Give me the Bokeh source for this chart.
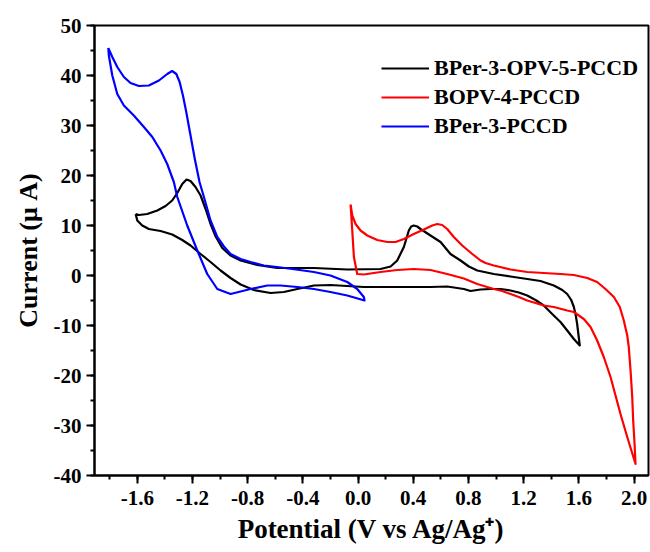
from bokeh.plotting import figure
from bokeh.models import Range1d, SingleIntervalTicker, NumeralTickFormatter, Legend, LegendItem
from bokeh.embed import file_html
from bokeh.resources import INLINE

# BPer-3-OPV-5-PCCD (black)
opv_v = [-1.612, -1.588, -1.528, -1.455, -1.395, -1.347, -1.31, -1.274, -1.243, -1.214, -1.178, -1.141,
         -1.105, -1.069, -1.032, -0.984, -0.924, -0.851, -0.73, -0.586, -0.45, -0.32, -0.078, 0.163,
         0.236, 0.284, 0.332, 0.368, 0.385, 0.404, 0.429, 0.453, 0.525, 0.598, 0.67, 0.743, 0.803, 0.864,
         0.984, 1.105, 1.226, 1.322, 1.419, 1.48, 1.516, 1.545, 1.564, 1.578, 1.588, 1.598, 1.607,
         1.564, 1.516, 1.467, 1.407, 1.346, 1.286, 1.226, 1.165, 1.105, 1.033, 0.96, 0.888, 0.815,
         0.767, 0.646, 0.525, 0.284, 0.042, -0.2, -0.32, -0.44, -0.538, -0.634, -0.755, -0.851, -0.924,
         -0.996, -1.069, -1.141, -1.214, -1.274, -1.347, -1.431, -1.516, -1.564, -1.6, -1.612]
opv_i = [12.3, 12.1, 12.3, 13.0, 13.9, 15.0, 16.5, 18.3, 19.2, 18.9, 17.7, 16.0,
         13.3, 10.3, 7.8, 5.5, 4.0, 3.0, 2.1, 1.5, 1.5, 1.5, 1.2, 1.3,
         1.8, 3.0, 5.7, 9.0, 9.8, 10.0, 9.8, 9.3, 8.0, 6.7, 4.3, 3.0, 1.8, 1.0,
         0.3, -0.2, -0.7, -1.1, -2.0, -2.9, -3.7, -4.9, -6.3, -8.0, -9.7, -12.0, -14.0,
         -12.7, -11.0, -9.3, -7.7, -6.0, -4.9, -4.0, -3.4, -3.0, -2.7, -2.7, -2.8, -3.1,
         -2.7, -2.2, -2.3, -2.3, -2.3, -1.9, -2.0, -2.7, -3.3, -3.5, -2.9, -1.8, -0.5,
         1.0, 2.7, 4.3, 6.0, 7.1, 8.2, 8.9, 9.3, 10.0, 11.0, 12.3]

# BOPV-4-PCCD (red)
bopv_v = [-0.054, -0.042, -0.018, 0.018, 0.067, 0.139, 0.212, 0.272, 0.332, 0.404, 0.477, 0.538, 0.574,
          0.61, 0.646, 0.694, 0.755, 0.828, 0.888, 0.924, 0.984, 1.105, 1.226, 1.346, 1.467, 1.564,
          1.661, 1.733, 1.793, 1.854, 1.897, 1.926, 1.951, 1.962, 1.975, 1.987, 1.994, 2.004, 2.011,
          1.951, 1.902, 1.866, 1.83, 1.781, 1.733, 1.685, 1.636, 1.564, 1.516, 1.419, 1.346, 1.286,
          1.226, 1.165, 1.105, 1.045, 0.984, 0.864, 0.767, 0.646, 0.525, 0.404, 0.284, 0.163, 0.042,
          -0.006, -0.03, -0.042, -0.054]
bopv_i = [14.2, 12.0, 10.3, 9.0, 8.0, 7.1, 6.7, 6.7, 7.3, 8.3, 9.2, 10.0, 10.3,
          10.1, 9.3, 7.7, 6.0, 4.3, 3.0, 2.5, 2.0, 1.2, 0.7, 0.5, 0.3, 0.1,
          -0.5, -1.3, -2.7, -4.3, -6.3, -9.0, -12.0, -14.3, -19.0, -24.3, -29.0, -33.7, -37.7,
          -32.3, -27.7, -24.0, -20.3, -16.3, -13.0, -10.3, -8.7, -7.3, -7.0, -6.3, -6.0, -5.5,
          -5.0, -4.3, -3.7, -3.1, -2.7, -1.7, -0.6, 0.3, 1.1, 1.3, 1.1, 0.7, 0.2,
          0.3, 3.7, 9.0, 14.2]

# BPer-3-PCCD (blue)
bper_v = [-1.81, -1.781, -1.745, -1.697, -1.649, -1.588, -1.516, -1.443, -1.383, -1.347, -1.317, -1.293,
          -1.269, -1.245, -1.214, -1.183, -1.149, -1.117, -1.069, -1.02, -0.972, -0.924, -0.851, -0.779,
          -0.683, -0.586, -0.45, -0.32, -0.2, -0.078, -0.006, 0.042, 0.047,
          -0.078, -0.2, -0.32, -0.44, -0.562, -0.658, -0.779, -0.924, -1.02, -1.093, -1.165, -1.238,
          -1.31, -1.335, -1.383, -1.431, -1.491, -1.552, -1.625, -1.697, -1.745, -1.781, -1.806, -1.81]
bper_i = [45.5, 43.7, 41.7, 39.7, 38.5, 37.9, 38.0, 39.0, 40.3, 40.9, 40.3, 38.7,
          36.0, 32.7, 28.0, 23.3, 18.7, 15.7, 11.0, 7.7, 5.8, 4.3, 3.3, 2.7,
          2.0, 1.7, 1.2, 0.7, 0.0, -1.3, -2.7, -4.3, -5.0,
          -4.0, -3.3, -2.7, -2.3, -2.0, -2.0, -2.7, -3.7, -2.7, 0.3, 5.0, 10.0,
          15.7, 18.7, 22.3, 25.0, 27.7, 29.7, 32.0, 34.0, 36.3, 40.0, 44.0, 45.5]

series_names = ["BPer-3-OPV-5-PCCD", "BOPV-4-PCCD", "BPer-3-PCCD"]
series_colors = ["black", "red", "blue"]

FONT = "Liberation Serif"

p = figure(width=650, height=552, output_backend="svg", toolbar_location=None,
           x_range=Range1d(-1.91, 2.105), y_range=Range1d(-40, 50),
           min_border_left=94, min_border_right=2, min_border_top=25, min_border_bottom=77)

r1 = p.line(opv_v, opv_i, line_color=series_colors[0], line_width=2.2, line_join="round")
r2 = p.line(bopv_v, bopv_i, line_color=series_colors[1], line_width=2.2, line_join="round")
r3 = p.line(bper_v, bper_i, line_color=series_colors[2], line_width=2.2, line_join="round")

p.xgrid.visible = False
p.ygrid.visible = False
p.outline_line_color = "black"
p.outline_line_width = 2

p.xaxis.ticker = SingleIntervalTicker(interval=0.4, num_minor_ticks=2)
p.yaxis.ticker = SingleIntervalTicker(interval=10, num_minor_ticks=2)
p.xaxis.formatter = NumeralTickFormatter(format="0.0")
p.yaxis.formatter = NumeralTickFormatter(format="0")

for ax in (p.xaxis, p.yaxis):
    ax.axis_line_width = 2
    ax.axis_line_color = "black"
    ax.major_tick_line_width = 2
    ax.minor_tick_line_width = 2
    ax.major_tick_line_color = "black"
    ax.minor_tick_line_color = "black"
    ax.major_tick_in = 0
    ax.minor_tick_in = 0
    ax.major_tick_out = 8
    ax.minor_tick_out = 4
    ax.major_label_text_font = FONT
    ax.major_label_text_font_style = "bold"
    ax.major_label_text_font_size = "21px"
    ax.major_label_text_color = "black"
    ax.axis_label_text_font = FONT
    ax.axis_label_text_font_style = "bold"
    ax.axis_label_text_color = "black"

p.xaxis.axis_label_text_font_size = "27px"
p.yaxis.axis_label_text_font_size = "26px"
p.xaxis.major_label_standoff = 7
p.xaxis.axis_label_standoff = 6
p.yaxis.major_label_standoff = 5
p.yaxis.axis_label_standoff = 8

p.xaxis.axis_label = "Potential (V vs Ag/Ag\u207a)"
p.yaxis.axis_label = "Current (\u03bc A)"

legend = Legend(items=[LegendItem(label=series_names[0], renderers=[r1]),
                       LegendItem(label=series_names[1], renderers=[r2]),
                       LegendItem(label=series_names[2], renderers=[r3])],
                location=(287, 336), glyph_width=48, glyph_height=20, label_standoff=5,
                spacing=3, padding=0, margin=0, border_line_color=None,
                background_fill_alpha=0,
                label_text_font=FONT, label_text_font_style="bold", label_text_font_size="22px",
                label_text_color="black")
p.add_layout(legend, "center")

open("out.html", "w").write(file_html(p, INLINE))
